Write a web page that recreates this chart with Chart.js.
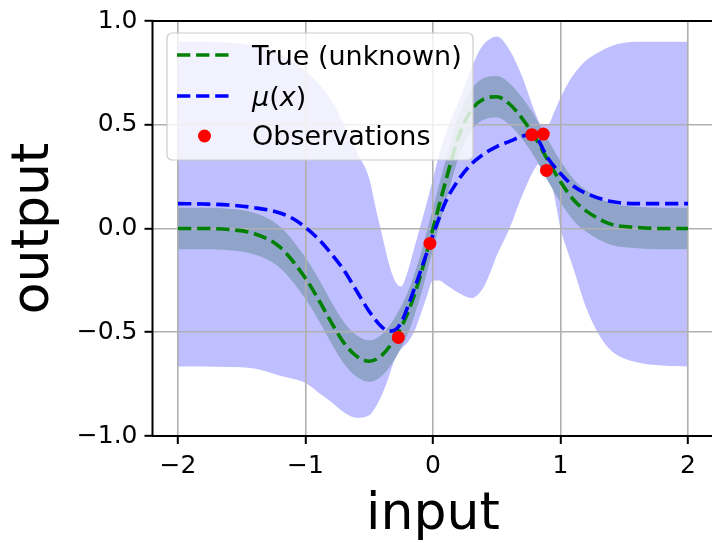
<!DOCTYPE html>
<html>
<head>
<meta charset="utf-8">
<script src="https://cdn.jsdelivr.net/npm/chart.js@4.4.0/dist/chart.umd.min.js"></script>
<style>
  html, body { margin: 0; padding: 0; background: #fff; overflow: hidden; }
  canvas { display: block; }
</style>
</head>
<body>
<canvas id="gp" width="716" height="543"></canvas>
<script>
// --- values ---
const xTicks = [-2, -1, 0, 1, 2];
const yTicks = [-1, -0.5, 0, 0.5, 1];

// true function and its +-0.1 band
const trueX  = [-2, -1.8, -1.6, -1.4, -1.2, -1.0, -0.9, -0.8, -0.7, -0.6, -0.5, -0.4, -0.3, -0.2, -0.1, 0, 0.1, 0.2, 0.3, 0.4, 0.5, 0.6, 0.7, 0.8, 0.9, 1.0, 1.1, 1.2, 1.4, 1.6, 1.8, 2.0];
const trueY  = [0, 0, -0.005, -0.025, -0.09, -0.24, -0.34, -0.45, -0.55, -0.615, -0.64, -0.61, -0.53, -0.41, -0.23, 0, 0.23, 0.44, 0.57, 0.625, 0.635, 0.60, 0.53, 0.44, 0.33, 0.225, 0.14, 0.085, 0.02, 0.005, 0, 0];
const trueHi = [0.1, 0.1, 0.095, 0.075, 0.01, -0.14, -0.24, -0.35, -0.45, -0.515, -0.54, -0.51, -0.43, -0.31, -0.13, 0.1, 0.33, 0.54, 0.67, 0.725, 0.735, 0.70, 0.63, 0.54, 0.43, 0.325, 0.24, 0.185, 0.12, 0.105, 0.1, 0.1];
const trueLo = [-0.1, -0.1, -0.105, -0.125, -0.19, -0.34, -0.44, -0.55, -0.65, -0.715, -0.74, -0.71, -0.63, -0.51, -0.33, -0.1, 0.13, 0.34, 0.47, 0.525, 0.535, 0.50, 0.43, 0.34, 0.23, 0.125, 0.04, -0.015, -0.08, -0.095, -0.1, -0.1];

// posterior mean
const muX = [-2, -1.8, -1.6, -1.4, -1.2, -1.1, -1.0, -0.9, -0.8, -0.7, -0.6, -0.5, -0.4, -0.35, -0.3, -0.25, -0.2, -0.1, 0, 0.1, 0.2, 0.3, 0.4, 0.5, 0.6, 0.7, 0.75, 0.8, 0.9, 1.0, 1.1, 1.2, 1.4, 1.6, 1.8, 2.0];
const muY = [0.12, 0.118, 0.113, 0.10, 0.075, 0.048, 0.005, -0.05, -0.12, -0.20, -0.30, -0.40, -0.475, -0.495, -0.49, -0.455, -0.38, -0.21, -0.03, 0.13, 0.235, 0.31, 0.36, 0.395, 0.42, 0.445, 0.452, 0.445, 0.34, 0.265, 0.205, 0.17, 0.13, 0.12, 0.12, 0.12];

// confidence band around the mean
const bandX  = [-2, -1.8, -1.6, -1.4, -1.2, -1.0, -0.9, -0.8, -0.7, -0.6, -0.5, -0.45, -0.4, -0.35, -0.3, -0.25, -0.2, -0.15, -0.1, -0.05, 0, 0.05, 0.1, 0.2, 0.3, 0.35, 0.4, 0.45, 0.5, 0.6, 0.7, 0.8, 0.85, 0.9, 0.95, 1.0, 1.05, 1.1, 1.2, 1.3, 1.4, 1.6, 1.8, 2.0];
const bandHi = [0.90, 0.90, 0.895, 0.88, 0.84, 0.76, 0.70, 0.62, 0.50, 0.37, 0.24, 0.10, -0.03, -0.16, -0.25, -0.28, -0.21, -0.10, 0.01, 0.12, 0.24, 0.36, 0.46, 0.61, 0.77, 0.84, 0.89, 0.915, 0.925, 0.86, 0.73, 0.56, 0.50, 0.50, 0.56, 0.63, 0.69, 0.74, 0.81, 0.85, 0.88, 0.90, 0.90, 0.90];
const bandLo = [-0.665, -0.665, -0.668, -0.675, -0.71, -0.745, -0.79, -0.835, -0.885, -0.912, -0.90, -0.86, -0.80, -0.72, -0.63, -0.58, -0.55, -0.50, -0.42, -0.33, -0.25, -0.25, -0.27, -0.31, -0.335, -0.32, -0.28, -0.21, -0.13, 0.0, 0.16, 0.29, 0.32, 0.28, 0.16, 0.0, -0.10, -0.19, -0.38, -0.51, -0.59, -0.645, -0.66, -0.665];

// observations
const obsX = [-0.272, -0.024, 0.775, 0.865, 0.89];
const obsY = [-0.525, -0.072, 0.452, 0.455, 0.28];

const FONT = 'DejaVu Sans';
const pts = (xs, ys) => xs.map((x, i) => ({ x: x, y: ys[i] }));
const minus = s => s.replace('-', '\u2212');

// spines + matplotlib style legend
const frameAndLegend = {
    id: 'frameAndLegend',
    afterDraw(chart) {
        const { ctx, chartArea: a } = chart;
        ctx.save();
        ctx.strokeStyle = '#000';
        ctx.lineWidth = 2;
        ctx.strokeRect(a.left, a.top, a.right - a.left, a.bottom - a.top);

        const lx = a.left + 14.5, ly = a.top + 12, lw = 306, lh = 127;
        ctx.beginPath();
        ctx.roundRect(lx, ly, lw, lh, 5);
        ctx.fillStyle = 'rgba(255,255,255,0.8)';
        ctx.fill();
        ctx.strokeStyle = '#cccccc';
        ctx.lineWidth = 1.2;
        ctx.stroke();

        const hx0 = lx + 10, hx1 = lx + 65, tx = lx + 85;
        const rows = [ly + 22, ly + 63, ly + 102];

        ctx.lineWidth = 3.6;
        ctx.setLineDash([13.3, 5.8]);
        [['#008000', rows[0]], ['#0000ff', rows[1]]].forEach(([c, y]) => {
            ctx.strokeStyle = c;
            ctx.beginPath(); ctx.moveTo(hx0, y); ctx.lineTo(hx1, y); ctx.stroke();
        });
        ctx.setLineDash([]);
        ctx.fillStyle = '#ff0000';
        ctx.beginPath(); ctx.arc((hx0 + hx1) / 2, rows[2] + 1, 6.5, 0, Math.PI * 2); ctx.fill();

        ctx.fillStyle = '#000';
        ctx.textBaseline = 'alphabetic';
        ctx.textAlign = 'left';
        ctx.font = '27px "' + FONT + '"';
        ctx.fillText('True (unknown)', tx, rows[0] + 10);
        ctx.fillText('Observations', tx, rows[2] + 9.5);

        // mu(x) with italic letters
        let x = tx;
        const parts = [['\u03bc', true], ['(', false], ['x', true], [')', false]];
        parts.forEach(([t, it]) => {
            ctx.font = (it ? 'italic ' : '') + '27px "' + FONT + '"';
            ctx.fillText(t, x, rows[1] + 10);
            x += ctx.measureText(t).width;
        });
        ctx.restore();
    }
};

new Chart(document.getElementById('gp'), {
    type: 'line',
    data: {
        datasets: [
            { data: pts(bandX, bandHi), fill: 1, backgroundColor: '#bfbfff', borderColor: 'transparent', borderWidth: 0, pointRadius: 0, cubicInterpolationMode: 'monotone', order: 10 },
            { data: pts(bandX, bandLo), fill: false, borderColor: 'transparent', borderWidth: 0, pointRadius: 0, cubicInterpolationMode: 'monotone', order: 10 },
            { data: pts(trueX, trueHi), fill: 3, backgroundColor: '#8fa4c8', borderColor: 'transparent', borderWidth: 0, pointRadius: 0, cubicInterpolationMode: 'monotone', order: 9 },
            { data: pts(trueX, trueLo), fill: false, borderColor: 'transparent', borderWidth: 0, pointRadius: 0, cubicInterpolationMode: 'monotone', order: 9 },
            { label: 'True (unknown)', data: pts(trueX, trueY), fill: false, borderColor: '#008000', borderWidth: 3.6, borderDash: [13.3, 5.8], pointRadius: 0, cubicInterpolationMode: 'monotone', order: 2 },
            { label: '\u03bc(x)', data: pts(muX, muY), fill: false, borderColor: '#0000ff', borderWidth: 3.6, borderDash: [13.3, 5.8], pointRadius: 0, cubicInterpolationMode: 'monotone', order: 1 },
            { label: 'Observations', data: pts(obsX, obsY), showLine: false, pointRadius: 6.5, pointBackgroundColor: '#ff0000', pointBorderColor: '#ff0000', pointBorderWidth: 0, order: 0 }
        ]
    },
    options: {
        responsive: false,
        devicePixelRatio: 1,
        animation: false,
        layout: { autoPadding: false, padding: { top: 21, right: 2.5, left: 0, bottom: 0 } },
        plugins: {
            legend: { display: false },
            tooltip: { enabled: false },
            filler: { drawTime: 'beforeDraw' }
        },
        scales: {
            x: {
                type: 'linear', min: -2.2, max: 2.2,
                afterBuildTicks: s => { s.ticks = xTicks.map(v => ({ value: v })); },
                afterFit: s => { s.height = 107; s.paddingLeft = 0; s.paddingRight = 0; },
                border: { display: false },
                grid: { color: '#b0b0b0', lineWidth: 1.6, tickColor: '#000', tickWidth: 2, tickLength: 8 },
                ticks: { color: '#000', font: { family: FONT, size: 25 }, padding: 7, maxRotation: 0, autoSkip: false, callback: v => minus(String(v)) },
                title: { display: true, text: 'input', color: '#000', font: { family: FONT, size: 52, lineHeight: 1 }, padding: { top: 0, bottom: 2 } }
            },
            y: {
                min: -1, max: 1,
                afterBuildTicks: s => { s.ticks = yTicks.map(v => ({ value: v })); },
                afterFit: s => { s.width = 152.5; s.paddingTop = 0; s.paddingBottom = 0; },
                border: { display: false },
                grid: { color: '#b0b0b0', lineWidth: 1.6, tickColor: '#000', tickWidth: 2, tickLength: 8 },
                ticks: { color: '#000', font: { family: FONT, size: 25 }, padding: 7, autoSkip: false, callback: v => minus(v.toFixed(1)) },
                title: { display: true, text: 'output', color: '#000', font: { family: FONT, size: 52, lineHeight: 1 }, padding: { top: 8, bottom: 0 } }
            }
        }
    },
    plugins: [frameAndLegend]
});
</script>
</body>
</html>
